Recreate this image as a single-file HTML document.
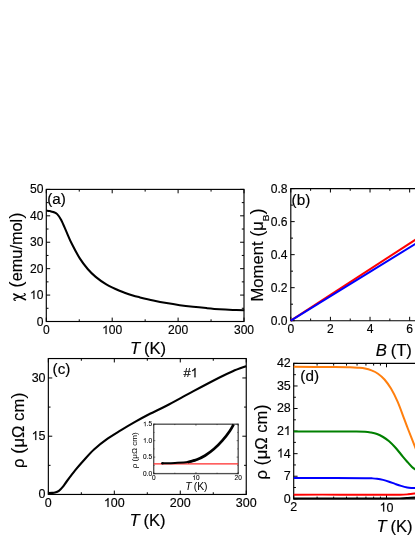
<!DOCTYPE html>
<html><head><meta charset="utf-8"><title>figure</title>
<style>
html,body{margin:0;padding:0;background:#fff;}
body{width:415px;height:537px;overflow:hidden;font-family:"Liberation Sans",sans-serif;}
svg{display:block;will-change:transform;}
svg text{font-family:"Liberation Sans",sans-serif;fill:#000;stroke:#000;stroke-width:0.16px;}
svg .sm text{stroke-width:0;}
</style></head><body>
<svg width="415" height="537" viewBox="0 0 415 537">
<rect x="0" y="0" width="415" height="537" fill="#fff"/>
<rect x="46.3" y="189.4" width="197.7" height="132.1" fill="none" stroke="#000" stroke-width="1.15"/>
<line x1="46.30" y1="321.50" x2="50.20" y2="321.50" stroke="#000" stroke-width="1.0"/>
<line x1="244.00" y1="321.50" x2="240.10" y2="321.50" stroke="#000" stroke-width="1.0"/>
<text x="36.67" y="326.00" font-size="12.1" style="stroke-width:0.14px">0</text>
<line x1="46.30" y1="308.29" x2="48.50" y2="308.29" stroke="#000" stroke-width="1.0"/>
<line x1="244.00" y1="308.29" x2="241.80" y2="308.29" stroke="#000" stroke-width="1.0"/>
<line x1="46.30" y1="295.08" x2="50.20" y2="295.08" stroke="#000" stroke-width="1.0"/>
<line x1="244.00" y1="295.08" x2="240.10" y2="295.08" stroke="#000" stroke-width="1.0"/>
<path transform="translate(29.94,299.08) scale(0.005908,-0.005908)" d="M763 0H583V1147Q518 1085 412.5 1023T223 930V1104Q373 1175 486 1276T646 1472H763V0Z" fill="#000" stroke="#000" stroke-width="23.7"/>
<text x="36.67" y="299.08" font-size="12.1" style="stroke-width:0.14px">0</text>
<line x1="46.30" y1="281.87" x2="48.50" y2="281.87" stroke="#000" stroke-width="1.0"/>
<line x1="244.00" y1="281.87" x2="241.80" y2="281.87" stroke="#000" stroke-width="1.0"/>
<line x1="46.30" y1="268.66" x2="50.20" y2="268.66" stroke="#000" stroke-width="1.0"/>
<line x1="244.00" y1="268.66" x2="240.10" y2="268.66" stroke="#000" stroke-width="1.0"/>
<text x="29.94" y="272.66" font-size="12.1" style="stroke-width:0.14px">20</text>
<line x1="46.30" y1="255.45" x2="48.50" y2="255.45" stroke="#000" stroke-width="1.0"/>
<line x1="244.00" y1="255.45" x2="241.80" y2="255.45" stroke="#000" stroke-width="1.0"/>
<line x1="46.30" y1="242.24" x2="50.20" y2="242.24" stroke="#000" stroke-width="1.0"/>
<line x1="244.00" y1="242.24" x2="240.10" y2="242.24" stroke="#000" stroke-width="1.0"/>
<text x="29.94" y="246.24" font-size="12.1" style="stroke-width:0.14px">30</text>
<line x1="46.30" y1="229.03" x2="48.50" y2="229.03" stroke="#000" stroke-width="1.0"/>
<line x1="244.00" y1="229.03" x2="241.80" y2="229.03" stroke="#000" stroke-width="1.0"/>
<line x1="46.30" y1="215.82" x2="50.20" y2="215.82" stroke="#000" stroke-width="1.0"/>
<line x1="244.00" y1="215.82" x2="240.10" y2="215.82" stroke="#000" stroke-width="1.0"/>
<text x="29.94" y="219.82" font-size="12.1" style="stroke-width:0.14px">40</text>
<line x1="46.30" y1="202.61" x2="48.50" y2="202.61" stroke="#000" stroke-width="1.0"/>
<line x1="244.00" y1="202.61" x2="241.80" y2="202.61" stroke="#000" stroke-width="1.0"/>
<line x1="46.30" y1="189.40" x2="50.20" y2="189.40" stroke="#000" stroke-width="1.0"/>
<line x1="244.00" y1="189.40" x2="240.10" y2="189.40" stroke="#000" stroke-width="1.0"/>
<text x="29.94" y="193.40" font-size="12.1" style="stroke-width:0.14px">50</text>
<line x1="46.30" y1="321.50" x2="46.30" y2="317.60" stroke="#000" stroke-width="1.0"/>
<line x1="46.30" y1="189.40" x2="46.30" y2="193.30" stroke="#000" stroke-width="1.0"/>
<text x="42.94" y="334.10" font-size="12.1" style="stroke-width:0.14px">0</text>
<line x1="79.25" y1="321.50" x2="79.25" y2="319.30" stroke="#000" stroke-width="1.0"/>
<line x1="79.25" y1="189.40" x2="79.25" y2="191.60" stroke="#000" stroke-width="1.0"/>
<line x1="112.20" y1="321.50" x2="112.20" y2="317.60" stroke="#000" stroke-width="1.0"/>
<line x1="112.20" y1="189.40" x2="112.20" y2="193.30" stroke="#000" stroke-width="1.0"/>
<path transform="translate(102.11,334.10) scale(0.005908,-0.005908)" d="M763 0H583V1147Q518 1085 412.5 1023T223 930V1104Q373 1175 486 1276T646 1472H763V0Z" fill="#000" stroke="#000" stroke-width="23.7"/>
<text x="108.84" y="334.10" font-size="12.1" style="stroke-width:0.14px">00</text>
<line x1="145.15" y1="321.50" x2="145.15" y2="319.30" stroke="#000" stroke-width="1.0"/>
<line x1="145.15" y1="189.40" x2="145.15" y2="191.60" stroke="#000" stroke-width="1.0"/>
<line x1="178.10" y1="321.50" x2="178.10" y2="317.60" stroke="#000" stroke-width="1.0"/>
<line x1="178.10" y1="189.40" x2="178.10" y2="193.30" stroke="#000" stroke-width="1.0"/>
<text x="168.01" y="334.10" font-size="12.1" style="stroke-width:0.14px">200</text>
<line x1="211.05" y1="321.50" x2="211.05" y2="319.30" stroke="#000" stroke-width="1.0"/>
<line x1="211.05" y1="189.40" x2="211.05" y2="191.60" stroke="#000" stroke-width="1.0"/>
<line x1="244.00" y1="321.50" x2="244.00" y2="317.60" stroke="#000" stroke-width="1.0"/>
<line x1="244.00" y1="189.40" x2="244.00" y2="193.30" stroke="#000" stroke-width="1.0"/>
<text x="233.91" y="334.10" font-size="12.1" style="stroke-width:0.14px">300</text>
<text transform="translate(148.00,354.20) scale(1.04,1)" font-size="16.0" text-anchor="middle" ><tspan font-style="italic">T</tspan><tspan dx="-0.8"> (K)</tspan></text>
<text transform="translate(21.9,287.7) rotate(-90) scale(1.02,1)" font-size="16.0" text-anchor="start"><tspan font-size="18.7" style="stroke-width:0">(</tspan>emu/mol<tspan font-size="18.7" style="stroke-width:0">)</tspan></text>
<g transform="translate(21.9,300.7) rotate(-90)" fill="none" stroke="#000" stroke-linecap="round"><path d="M6.7,-8.2 L1.0,3.6" stroke-width="1.55"/><path d="M0.3,-6.6 C0.5,-8.2 1.9,-8.8 2.6,-6.9 L4.9,1.9 C5.5,3.8 6.6,3.9 7.2,2.3" stroke-width="1.15"/></g>
<text transform="translate(47.20,203.90) scale(1.04,1)" font-size="14.7" text-anchor="start" >(a)</text>
<path d="M46.50,210.60 C47.08,210.68 48.87,210.87 50.00,211.10 C51.13,211.33 52.10,211.50 53.30,212.00 C54.50,212.50 55.88,212.77 57.20,214.10 C58.52,215.43 59.65,217.03 61.20,220.00 C62.75,222.97 64.73,227.93 66.50,231.90 C68.27,235.87 69.58,239.38 71.80,243.80 C74.02,248.22 77.15,254.20 79.80,258.40 C82.45,262.60 85.05,265.92 87.70,269.00 C90.35,272.08 92.60,274.33 95.70,276.90 C98.80,279.47 102.33,282.10 106.30,284.40 C110.27,286.70 115.08,288.85 119.50,290.70 C123.92,292.55 129.38,294.38 132.80,295.50 C136.22,296.62 136.58,296.57 140.00,297.40 C143.42,298.23 148.88,299.55 153.30,300.50 C157.72,301.45 162.08,302.32 166.50,303.10 C170.92,303.88 175.38,304.58 179.80,305.20 C184.22,305.82 188.58,306.32 193.00,306.80 C197.42,307.28 201.88,307.70 206.30,308.10 C210.72,308.50 215.08,308.90 219.50,309.20 C223.92,309.50 228.68,309.72 232.80,309.90 C236.92,310.08 242.30,310.23 244.20,310.30" fill="none" stroke="#000" stroke-width="2.05" stroke-linejoin="round" stroke-linecap="butt"/>
<line x1="290.80" y1="188.60" x2="416.00" y2="188.60" stroke="#000" stroke-width="1.15"/>
<line x1="290.80" y1="320.70" x2="416.00" y2="320.70" stroke="#000" stroke-width="1.15"/>
<line x1="290.80" y1="188.03" x2="290.80" y2="321.27" stroke="#000" stroke-width="1.15"/>
<line x1="290.80" y1="320.70" x2="294.70" y2="320.70" stroke="#000" stroke-width="1.0"/>
<text x="270.78" y="324.95" font-size="12.1" style="stroke-width:0.14px">0.0</text>
<line x1="290.80" y1="304.19" x2="293.00" y2="304.19" stroke="#000" stroke-width="1.0"/>
<line x1="290.80" y1="287.68" x2="294.70" y2="287.68" stroke="#000" stroke-width="1.0"/>
<text x="270.78" y="291.93" font-size="12.1" style="stroke-width:0.14px">0.2</text>
<line x1="290.80" y1="271.16" x2="293.00" y2="271.16" stroke="#000" stroke-width="1.0"/>
<line x1="290.80" y1="254.65" x2="294.70" y2="254.65" stroke="#000" stroke-width="1.0"/>
<text x="270.78" y="258.90" font-size="12.1" style="stroke-width:0.14px">0.4</text>
<line x1="290.80" y1="238.14" x2="293.00" y2="238.14" stroke="#000" stroke-width="1.0"/>
<line x1="290.80" y1="221.62" x2="294.70" y2="221.62" stroke="#000" stroke-width="1.0"/>
<text x="270.78" y="225.88" font-size="12.1" style="stroke-width:0.14px">0.6</text>
<line x1="290.80" y1="205.11" x2="293.00" y2="205.11" stroke="#000" stroke-width="1.0"/>
<line x1="290.80" y1="188.60" x2="294.70" y2="188.60" stroke="#000" stroke-width="1.0"/>
<text x="270.78" y="192.85" font-size="12.1" style="stroke-width:0.14px">0.8</text>
<line x1="290.80" y1="320.70" x2="290.80" y2="316.80" stroke="#000" stroke-width="1.0"/>
<line x1="290.80" y1="188.60" x2="290.80" y2="192.50" stroke="#000" stroke-width="1.0"/>
<text x="287.44" y="333.30" font-size="12.1" style="stroke-width:0.14px">0</text>
<line x1="310.61" y1="320.70" x2="310.61" y2="318.50" stroke="#000" stroke-width="1.0"/>
<line x1="310.61" y1="188.60" x2="310.61" y2="190.80" stroke="#000" stroke-width="1.0"/>
<line x1="330.42" y1="320.70" x2="330.42" y2="316.80" stroke="#000" stroke-width="1.0"/>
<line x1="330.42" y1="188.60" x2="330.42" y2="192.50" stroke="#000" stroke-width="1.0"/>
<text x="327.06" y="333.30" font-size="12.1" style="stroke-width:0.14px">2</text>
<line x1="350.23" y1="320.70" x2="350.23" y2="318.50" stroke="#000" stroke-width="1.0"/>
<line x1="350.23" y1="188.60" x2="350.23" y2="190.80" stroke="#000" stroke-width="1.0"/>
<line x1="370.04" y1="320.70" x2="370.04" y2="316.80" stroke="#000" stroke-width="1.0"/>
<line x1="370.04" y1="188.60" x2="370.04" y2="192.50" stroke="#000" stroke-width="1.0"/>
<text x="366.68" y="333.30" font-size="12.1" style="stroke-width:0.14px">4</text>
<line x1="389.85" y1="320.70" x2="389.85" y2="318.50" stroke="#000" stroke-width="1.0"/>
<line x1="389.85" y1="188.60" x2="389.85" y2="190.80" stroke="#000" stroke-width="1.0"/>
<line x1="409.66" y1="320.70" x2="409.66" y2="316.80" stroke="#000" stroke-width="1.0"/>
<line x1="409.66" y1="188.60" x2="409.66" y2="192.50" stroke="#000" stroke-width="1.0"/>
<text x="406.30" y="333.30" font-size="12.1" style="stroke-width:0.14px">6</text>
<text transform="translate(393.80,355.60) scale(1.04,1)" font-size="16.0" text-anchor="middle" ><tspan font-style="italic">B</tspan><tspan dx="-0.8"> (T)</tspan></text>
<text transform="translate(262.80,255.00) rotate(-90) scale(1.04,1)" font-size="16.0" text-anchor="middle">Moment <tspan font-size="17.5" style="stroke-width:0">(</tspan>μ<tspan font-size="9.6" dy="6.0">B</tspan><tspan dy="-6.0" font-size="17.5" style="stroke-width:0">)</tspan></text>
<text transform="translate(291.60,204.80) scale(1.04,1)" font-size="14.7" text-anchor="start" >(b)</text>
<line x1="290.80" y1="320.70" x2="416.00" y2="239.30" stroke="#ff0000" stroke-width="2.0"/>
<line x1="290.80" y1="320.70" x2="416.00" y2="243.50" stroke="#0000ff" stroke-width="2.0"/>
<line x1="290.80" y1="320.70" x2="416.00" y2="239.30" stroke="#ff0000" stroke-width="0.0"/>
<rect x="48.35" y="358.55" width="197.9" height="135.89999999999998" fill="none" stroke="#000" stroke-width="1.15"/>
<line x1="48.35" y1="494.45" x2="52.25" y2="494.45" stroke="#000" stroke-width="1.0"/>
<line x1="246.25" y1="494.45" x2="242.35" y2="494.45" stroke="#000" stroke-width="1.0"/>
<text x="38.60" y="498.35" font-size="12.5" style="stroke-width:0.14px">0</text>
<line x1="48.35" y1="465.33" x2="50.55" y2="465.33" stroke="#000" stroke-width="1.0"/>
<line x1="246.25" y1="465.33" x2="244.05" y2="465.33" stroke="#000" stroke-width="1.0"/>
<line x1="48.35" y1="436.21" x2="52.25" y2="436.21" stroke="#000" stroke-width="1.0"/>
<line x1="246.25" y1="436.21" x2="242.35" y2="436.21" stroke="#000" stroke-width="1.0"/>
<path transform="translate(31.65,440.11) scale(0.006104,-0.006104)" d="M763 0H583V1147Q518 1085 412.5 1023T223 930V1104Q373 1175 486 1276T646 1472H763V0Z" fill="#000" stroke="#000" stroke-width="22.9"/>
<text x="38.60" y="440.11" font-size="12.5" style="stroke-width:0.14px">5</text>
<line x1="48.35" y1="407.09" x2="50.55" y2="407.09" stroke="#000" stroke-width="1.0"/>
<line x1="246.25" y1="407.09" x2="244.05" y2="407.09" stroke="#000" stroke-width="1.0"/>
<line x1="48.35" y1="377.96" x2="52.25" y2="377.96" stroke="#000" stroke-width="1.0"/>
<line x1="246.25" y1="377.96" x2="242.35" y2="377.96" stroke="#000" stroke-width="1.0"/>
<text x="31.65" y="381.86" font-size="12.5" style="stroke-width:0.14px">30</text>
<line x1="48.35" y1="494.45" x2="48.35" y2="490.55" stroke="#000" stroke-width="1.0"/>
<line x1="48.35" y1="358.55" x2="48.35" y2="362.45" stroke="#000" stroke-width="1.0"/>
<text x="44.87" y="507.05" font-size="12.5" style="stroke-width:0.14px">0</text>
<line x1="81.33" y1="494.45" x2="81.33" y2="492.25" stroke="#000" stroke-width="1.0"/>
<line x1="81.33" y1="358.55" x2="81.33" y2="360.75" stroke="#000" stroke-width="1.0"/>
<line x1="114.32" y1="494.45" x2="114.32" y2="490.55" stroke="#000" stroke-width="1.0"/>
<line x1="114.32" y1="358.55" x2="114.32" y2="362.45" stroke="#000" stroke-width="1.0"/>
<path transform="translate(103.89,507.05) scale(0.006104,-0.006104)" d="M763 0H583V1147Q518 1085 412.5 1023T223 930V1104Q373 1175 486 1276T646 1472H763V0Z" fill="#000" stroke="#000" stroke-width="22.9"/>
<text x="110.84" y="507.05" font-size="12.5" style="stroke-width:0.14px">00</text>
<line x1="147.30" y1="494.45" x2="147.30" y2="492.25" stroke="#000" stroke-width="1.0"/>
<line x1="147.30" y1="358.55" x2="147.30" y2="360.75" stroke="#000" stroke-width="1.0"/>
<line x1="180.28" y1="494.45" x2="180.28" y2="490.55" stroke="#000" stroke-width="1.0"/>
<line x1="180.28" y1="358.55" x2="180.28" y2="362.45" stroke="#000" stroke-width="1.0"/>
<text x="169.86" y="507.05" font-size="12.5" style="stroke-width:0.14px">200</text>
<line x1="213.27" y1="494.45" x2="213.27" y2="492.25" stroke="#000" stroke-width="1.0"/>
<line x1="213.27" y1="358.55" x2="213.27" y2="360.75" stroke="#000" stroke-width="1.0"/>
<line x1="246.25" y1="494.45" x2="246.25" y2="490.55" stroke="#000" stroke-width="1.0"/>
<line x1="246.25" y1="358.55" x2="246.25" y2="362.45" stroke="#000" stroke-width="1.0"/>
<text x="235.82" y="507.05" font-size="12.5" style="stroke-width:0.14px">300</text>
<text transform="translate(147.50,526.00) scale(1.04,1)" font-size="16.0" text-anchor="middle" ><tspan font-style="italic">T</tspan><tspan dx="-0.8"> (K)</tspan></text>
<text transform="translate(23.80,430.20) rotate(-90) scale(1.04,1)" font-size="16.0" text-anchor="middle">ρ <tspan font-size="18.5" style="stroke-width:0">(</tspan>μΩ cm<tspan font-size="18.5" style="stroke-width:0">)</tspan></text>
<text transform="translate(52.60,374.00) scale(1.04,1)" font-size="14.7" text-anchor="start" >(c)</text>
<text x="183.47" y="377.30" font-size="13" style="stroke-width:0.14px">#</text>
<path transform="translate(190.70,377.30) scale(0.006348,-0.006348)" d="M763 0H583V1147Q518 1085 412.5 1023T223 930V1104Q373 1175 486 1276T646 1472H763V0Z" fill="#000" stroke="#000" stroke-width="22.1"/>
<path d="M48.35,493.10 C48.96,493.07 50.91,492.98 52.00,492.90 C53.09,492.82 53.75,492.93 54.90,492.60 C56.05,492.27 57.55,491.88 58.90,490.90 C60.25,489.92 61.65,488.35 63.00,486.70 C64.35,485.05 64.98,483.72 67.00,481.00 C69.02,478.28 72.40,473.73 75.10,470.40 C77.80,467.07 80.05,464.48 83.20,461.00 C86.35,457.52 89.93,453.22 94.00,449.50 C98.07,445.78 103.08,441.92 107.60,438.70 C112.12,435.48 116.60,432.95 121.10,430.20 C125.60,427.45 129.78,424.93 134.60,422.20 C139.42,419.47 144.68,416.55 150.00,413.80 C155.32,411.05 159.33,409.43 166.50,405.70 C173.67,401.97 184.17,396.10 193.00,391.40 C201.83,386.70 212.87,380.87 219.50,377.50 C226.13,374.13 228.35,373.08 232.80,371.20 C237.25,369.32 243.97,367.03 246.20,366.20" fill="none" stroke="#000" stroke-width="2.1" stroke-linejoin="round" stroke-linecap="butt"/>
<rect x="153.7" y="424.2" width="84.5" height="49.400000000000034" fill="#fff" stroke="#505050" stroke-width="1.35"/>
<g class="sm">
<line x1="153.70" y1="473.60" x2="155.30" y2="473.60" stroke="#000" stroke-width="0.5"/>
<line x1="238.20" y1="473.60" x2="236.60" y2="473.60" stroke="#000" stroke-width="0.5"/>
<text x="143.06" y="475.70" font-size="6.5" style="stroke-width:0.08px">0.0</text>
<line x1="153.70" y1="465.37" x2="154.60" y2="465.37" stroke="#000" stroke-width="0.5"/>
<line x1="238.20" y1="465.37" x2="237.30" y2="465.37" stroke="#000" stroke-width="0.5"/>
<line x1="153.70" y1="457.13" x2="155.30" y2="457.13" stroke="#000" stroke-width="0.5"/>
<line x1="238.20" y1="457.13" x2="236.60" y2="457.13" stroke="#000" stroke-width="0.5"/>
<text x="143.06" y="459.23" font-size="6.5" style="stroke-width:0.08px">0.5</text>
<line x1="153.70" y1="448.90" x2="154.60" y2="448.90" stroke="#000" stroke-width="0.5"/>
<line x1="238.20" y1="448.90" x2="237.30" y2="448.90" stroke="#000" stroke-width="0.5"/>
<line x1="153.70" y1="440.67" x2="155.30" y2="440.67" stroke="#000" stroke-width="0.5"/>
<line x1="238.20" y1="440.67" x2="236.60" y2="440.67" stroke="#000" stroke-width="0.5"/>
<path transform="translate(143.06,442.77) scale(0.003174,-0.003174)" d="M763 0H583V1147Q518 1085 412.5 1023T223 930V1104Q373 1175 486 1276T646 1472H763V0Z" fill="#000" stroke="#000" stroke-width="25.2"/>
<text x="146.68" y="442.77" font-size="6.5" style="stroke-width:0.08px">.0</text>
<line x1="153.70" y1="432.43" x2="154.60" y2="432.43" stroke="#000" stroke-width="0.5"/>
<line x1="238.20" y1="432.43" x2="237.30" y2="432.43" stroke="#000" stroke-width="0.5"/>
<line x1="153.70" y1="424.20" x2="155.30" y2="424.20" stroke="#000" stroke-width="0.5"/>
<line x1="238.20" y1="424.20" x2="236.60" y2="424.20" stroke="#000" stroke-width="0.5"/>
<path transform="translate(143.06,426.30) scale(0.003174,-0.003174)" d="M763 0H583V1147Q518 1085 412.5 1023T223 930V1104Q373 1175 486 1276T646 1472H763V0Z" fill="#000" stroke="#000" stroke-width="25.2"/>
<text x="146.68" y="426.30" font-size="6.5" style="stroke-width:0.08px">.5</text>
<line x1="153.70" y1="473.60" x2="153.70" y2="472.00" stroke="#000" stroke-width="0.5"/>
<line x1="153.70" y1="424.20" x2="153.70" y2="425.80" stroke="#000" stroke-width="0.5"/>
<text x="151.89" y="480.00" font-size="6.5" style="stroke-width:0.08px">0</text>
<line x1="174.82" y1="473.60" x2="174.82" y2="472.70" stroke="#000" stroke-width="0.5"/>
<line x1="174.82" y1="424.20" x2="174.82" y2="425.10" stroke="#000" stroke-width="0.5"/>
<line x1="195.95" y1="473.60" x2="195.95" y2="472.00" stroke="#000" stroke-width="0.5"/>
<line x1="195.95" y1="424.20" x2="195.95" y2="425.80" stroke="#000" stroke-width="0.5"/>
<path transform="translate(192.34,480.00) scale(0.003174,-0.003174)" d="M763 0H583V1147Q518 1085 412.5 1023T223 930V1104Q373 1175 486 1276T646 1472H763V0Z" fill="#000" stroke="#000" stroke-width="25.2"/>
<text x="195.95" y="480.00" font-size="6.5" style="stroke-width:0.08px">0</text>
<line x1="217.07" y1="473.60" x2="217.07" y2="472.70" stroke="#000" stroke-width="0.5"/>
<line x1="217.07" y1="424.20" x2="217.07" y2="425.10" stroke="#000" stroke-width="0.5"/>
<line x1="238.20" y1="473.60" x2="238.20" y2="472.00" stroke="#000" stroke-width="0.5"/>
<line x1="238.20" y1="424.20" x2="238.20" y2="425.80" stroke="#000" stroke-width="0.5"/>
<text x="234.59" y="480.00" font-size="6.5" style="stroke-width:0.08px">20</text>
<text transform="translate(196.40,489.50) scale(1.04,1)" font-size="10.0" text-anchor="middle" ><tspan font-style="italic">T</tspan><tspan dx="-0.8"> (K)</tspan></text>
<text transform="translate(136.90,450.30) rotate(-90) scale(1.04,1)" font-size="7.8" text-anchor="middle">ρ (μΩ cm)</text>
</g>
<line x1="153.70" y1="463.80" x2="238.20" y2="463.80" stroke="#ff2a2a" stroke-width="1.25"/>
<path d="M162.40,463.20 C164.50,463.15 170.77,463.08 175.00,462.90 C179.23,462.72 184.22,462.62 187.80,462.10 C191.38,461.58 195.05,460.18 196.50,459.80" fill="none" stroke="#000" stroke-width="2.0" stroke-linejoin="round" stroke-linecap="butt"/>
<path d="M187.80,462.10 C189.25,461.72 193.60,460.90 196.50,459.80 C199.40,458.70 202.30,457.28 205.20,455.50 C208.10,453.72 211.02,451.62 213.90,449.10 C216.78,446.58 219.85,443.43 222.50,440.40 C225.15,437.37 227.95,433.57 229.80,430.90 C231.65,428.23 232.97,425.48 233.60,424.40" fill="none" stroke="#000" stroke-width="2.7" stroke-linejoin="round" stroke-linecap="butt"/>
<circle cx="162.4" cy="463.2" r="1.3" fill="#000"/>
<line x1="293.70" y1="363.40" x2="416.00" y2="363.40" stroke="#000" stroke-width="1.15"/>
<line x1="293.70" y1="498.80" x2="416.00" y2="498.80" stroke="#000" stroke-width="1.15"/>
<line x1="293.70" y1="362.82" x2="293.70" y2="499.38" stroke="#000" stroke-width="1.15"/>
<line x1="293.70" y1="498.80" x2="297.60" y2="498.80" stroke="#000" stroke-width="1.0"/>
<text x="283.85" y="502.70" font-size="12.5" style="stroke-width:0.14px">0</text>
<line x1="293.70" y1="487.52" x2="295.90" y2="487.52" stroke="#000" stroke-width="1.0"/>
<line x1="293.70" y1="476.23" x2="297.60" y2="476.23" stroke="#000" stroke-width="1.0"/>
<text x="283.85" y="480.13" font-size="12.5" style="stroke-width:0.14px">7</text>
<line x1="293.70" y1="464.95" x2="295.90" y2="464.95" stroke="#000" stroke-width="1.0"/>
<line x1="293.70" y1="453.67" x2="297.60" y2="453.67" stroke="#000" stroke-width="1.0"/>
<path transform="translate(276.90,457.57) scale(0.006104,-0.006104)" d="M763 0H583V1147Q518 1085 412.5 1023T223 930V1104Q373 1175 486 1276T646 1472H763V0Z" fill="#000" stroke="#000" stroke-width="22.9"/>
<text x="283.85" y="457.57" font-size="12.5" style="stroke-width:0.14px">4</text>
<line x1="293.70" y1="442.38" x2="295.90" y2="442.38" stroke="#000" stroke-width="1.0"/>
<line x1="293.70" y1="431.10" x2="297.60" y2="431.10" stroke="#000" stroke-width="1.0"/>
<text x="276.90" y="435.00" font-size="12.5" style="stroke-width:0.14px">2</text>
<path transform="translate(283.85,435.00) scale(0.006104,-0.006104)" d="M763 0H583V1147Q518 1085 412.5 1023T223 930V1104Q373 1175 486 1276T646 1472H763V0Z" fill="#000" stroke="#000" stroke-width="22.9"/>
<line x1="293.70" y1="419.82" x2="295.90" y2="419.82" stroke="#000" stroke-width="1.0"/>
<line x1="293.70" y1="408.53" x2="297.60" y2="408.53" stroke="#000" stroke-width="1.0"/>
<text x="276.90" y="412.43" font-size="12.5" style="stroke-width:0.14px">28</text>
<line x1="293.70" y1="397.25" x2="295.90" y2="397.25" stroke="#000" stroke-width="1.0"/>
<line x1="293.70" y1="385.97" x2="297.60" y2="385.97" stroke="#000" stroke-width="1.0"/>
<text x="276.90" y="389.87" font-size="12.5" style="stroke-width:0.14px">35</text>
<line x1="293.70" y1="374.68" x2="295.90" y2="374.68" stroke="#000" stroke-width="1.0"/>
<line x1="293.70" y1="363.40" x2="297.60" y2="363.40" stroke="#000" stroke-width="1.0"/>
<text x="276.90" y="367.30" font-size="12.5" style="stroke-width:0.14px">42</text>
<line x1="293.70" y1="498.80" x2="293.70" y2="494.90" stroke="#000" stroke-width="1.0"/>
<line x1="293.70" y1="363.40" x2="293.70" y2="367.30" stroke="#000" stroke-width="1.0"/>
<line x1="317.08" y1="498.80" x2="317.08" y2="496.60" stroke="#000" stroke-width="1.0"/>
<line x1="317.08" y1="363.40" x2="317.08" y2="365.60" stroke="#000" stroke-width="1.0"/>
<line x1="333.67" y1="498.80" x2="333.67" y2="496.60" stroke="#000" stroke-width="1.0"/>
<line x1="333.67" y1="363.40" x2="333.67" y2="365.60" stroke="#000" stroke-width="1.0"/>
<line x1="346.53" y1="498.80" x2="346.53" y2="496.60" stroke="#000" stroke-width="1.0"/>
<line x1="346.53" y1="363.40" x2="346.53" y2="365.60" stroke="#000" stroke-width="1.0"/>
<line x1="357.05" y1="498.80" x2="357.05" y2="496.60" stroke="#000" stroke-width="1.0"/>
<line x1="357.05" y1="363.40" x2="357.05" y2="365.60" stroke="#000" stroke-width="1.0"/>
<line x1="365.94" y1="498.80" x2="365.94" y2="496.60" stroke="#000" stroke-width="1.0"/>
<line x1="365.94" y1="363.40" x2="365.94" y2="365.60" stroke="#000" stroke-width="1.0"/>
<line x1="373.64" y1="498.80" x2="373.64" y2="496.60" stroke="#000" stroke-width="1.0"/>
<line x1="373.64" y1="363.40" x2="373.64" y2="365.60" stroke="#000" stroke-width="1.0"/>
<line x1="380.43" y1="498.80" x2="380.43" y2="496.60" stroke="#000" stroke-width="1.0"/>
<line x1="380.43" y1="363.40" x2="380.43" y2="365.60" stroke="#000" stroke-width="1.0"/>
<line x1="386.50" y1="498.80" x2="386.50" y2="494.90" stroke="#000" stroke-width="1.0"/>
<line x1="386.50" y1="363.40" x2="386.50" y2="367.30" stroke="#000" stroke-width="1.0"/>
<path d="M293.70,498.55 C308.92,498.55 367.28,498.58 385.00,498.55 C402.72,498.52 396.17,498.45 400.00,498.35 C403.83,498.25 405.33,498.12 408.00,497.95 C410.67,497.78 414.67,497.45 416.00,497.35" fill="none" stroke="#000" stroke-width="1.9" stroke-linejoin="round" stroke-linecap="butt"/>
<path d="M293.70,494.65 C301.42,494.65 324.78,494.63 340.00,494.65 C355.22,494.67 375.00,494.73 385.00,494.75 C395.00,494.77 396.17,494.82 400.00,494.75 C403.83,494.68 405.33,494.53 408.00,494.30 C410.67,494.07 414.67,493.55 416.00,493.40" fill="none" stroke="#ff0000" stroke-width="1.95" stroke-linejoin="round" stroke-linecap="butt"/>
<path d="M293.70,477.95 C300.58,477.96 323.12,477.97 335.00,478.00 C346.88,478.03 358.83,478.09 365.00,478.15 C371.17,478.21 370.00,478.25 372.00,478.35 C374.00,478.45 375.15,478.49 377.00,478.75 C378.85,479.01 381.08,479.41 383.10,479.90 C385.12,480.39 387.10,481.03 389.10,481.70 C391.10,482.37 393.10,483.20 395.10,483.90 C397.10,484.60 399.08,485.32 401.10,485.90 C403.12,486.48 405.38,487.06 407.20,487.40 C409.02,487.74 410.53,487.82 412.00,487.95 C413.47,488.07 415.33,488.12 416.00,488.15" fill="none" stroke="#0000ff" stroke-width="2.0" stroke-linejoin="round" stroke-linecap="butt"/>
<path d="M293.70,431.45 C300.58,431.45 324.95,431.44 335.00,431.45 C345.05,431.46 349.00,431.46 354.00,431.50 C359.00,431.54 362.17,431.53 365.00,431.70 C367.83,431.87 369.00,432.12 371.00,432.50 C373.00,432.88 374.98,433.25 377.00,434.00 C379.02,434.75 381.08,435.78 383.10,437.00 C385.12,438.22 387.10,439.58 389.10,441.30 C391.10,443.02 393.10,445.10 395.10,447.30 C397.10,449.50 399.08,452.10 401.10,454.50 C403.12,456.90 405.38,459.63 407.20,461.70 C409.02,463.77 410.53,465.53 412.00,466.90 C413.47,468.27 415.33,469.40 416.00,469.90" fill="none" stroke="#008000" stroke-width="2.1" stroke-linejoin="round" stroke-linecap="butt"/>
<path d="M293.70,366.85 C300.58,366.88 325.62,366.94 335.00,367.00 C344.38,367.06 346.17,367.08 350.00,367.20 C353.83,367.32 355.50,367.48 358.00,367.70 C360.50,367.92 362.75,368.05 365.00,368.50 C367.25,368.95 369.33,369.53 371.50,370.40 C373.67,371.27 375.83,372.18 378.00,373.70 C380.17,375.22 382.33,377.02 384.50,379.50 C386.67,381.98 388.82,384.90 391.00,388.60 C393.18,392.30 395.42,396.70 397.60,401.70 C399.78,406.70 402.37,414.05 404.10,418.60 C405.83,423.15 406.68,425.57 408.00,429.00 C409.32,432.43 410.67,435.83 412.00,439.20 C413.33,442.57 415.33,447.53 416.00,449.20" fill="none" stroke="#ff7f0e" stroke-width="2.0" stroke-linejoin="round" stroke-linecap="butt"/>
<text x="290.32" y="511.10" font-size="12.5" style="stroke-width:0.14px">2</text>
<path transform="translate(379.55,511.50) scale(0.006104,-0.006104)" d="M763 0H583V1147Q518 1085 412.5 1023T223 930V1104Q373 1175 486 1276T646 1472H763V0Z" fill="#000" stroke="#000" stroke-width="22.9"/>
<text x="386.50" y="511.50" font-size="12.5" style="stroke-width:0.14px">0</text>
<text transform="translate(394.50,532.30) scale(1.04,1)" font-size="16.0" text-anchor="middle" ><tspan font-style="italic">T</tspan><tspan dx="-0.8"> (K)</tspan></text>
<text transform="translate(267.00,442.00) rotate(-90) scale(1.04,1)" font-size="16.0" text-anchor="middle">ρ <tspan font-size="17.5" style="stroke-width:0">(</tspan>μΩ cm<tspan font-size="17.5" style="stroke-width:0">)</tspan></text>
<text transform="translate(300.30,381.40) scale(1.04,1)" font-size="14.7" text-anchor="start" >(d)</text>
</svg>
</body></html>
